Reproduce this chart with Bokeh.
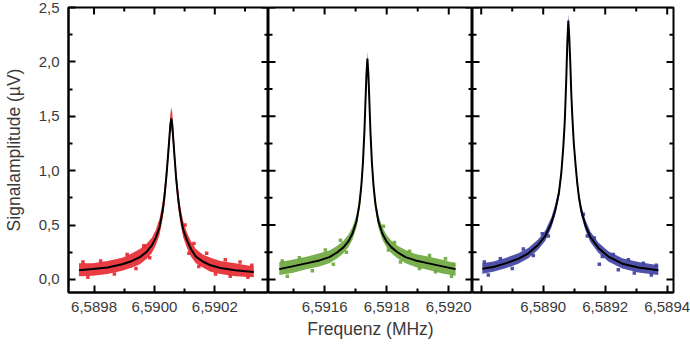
import math
from bokeh.plotting import figure
from bokeh.layouts import row
from bokeh.models import Range1d, LinearAxis, FixedTicker
from bokeh.embed import file_html
from bokeh.resources import INLINE

# ---------------- data ----------------
# Panel 1 (red)
red_freq = [6.5897503, 6.5897958, 6.5898446, 6.5898934, 6.5899259, 6.5899519, 6.5899747, 6.5899910,
            6.5900040, 6.5900170, 6.5900267, 6.5900332, 6.5900397, 6.5900446, 6.5900495, 6.5900527,
            6.5900560, 6.5900593, 6.5900625, 6.5900674, 6.5900723, 6.5900788, 6.5900853, 6.5900950,
            6.5901080, 6.5901210, 6.5901373, 6.5901601, 6.5901861, 6.5902186, 6.5902674, 6.5903292]
red_fit = [0.085, 0.095, 0.11, 0.14, 0.17, 0.205, 0.255, 0.31, 0.38, 0.48, 0.62, 0.76, 0.95, 1.12, 1.30, 1.42,
           1.48, 1.42, 1.29, 1.10, 0.92, 0.74, 0.60, 0.46, 0.36, 0.28, 0.21, 0.165, 0.13, 0.105, 0.085, 0.068]
red_hi = [0.15, 0.15, 0.17, 0.20, 0.24, 0.28, 0.33, 0.38, 0.45, 0.56, 0.70, 0.84, 1.03, 1.20, 1.38, 1.52,
          1.58, 1.53, 1.38, 1.18, 1.00, 0.82, 0.68, 0.54, 0.43, 0.35, 0.28, 0.23, 0.20, 0.17, 0.15, 0.12]
red_lo = [0.03, 0.035, 0.05, 0.08, 0.11, 0.14, 0.19, 0.24, 0.31, 0.41, 0.55, 0.68, 0.87, 1.04, 1.22, 1.34,
          1.38, 1.33, 1.20, 1.02, 0.84, 0.66, 0.53, 0.39, 0.29, 0.21, 0.15, 0.11, 0.07, 0.05, 0.03, 0.02]
red_dot_freq = [6.5897633, 6.5897796, 6.5898219, 6.5898674, 6.5899097, 6.5899389, 6.5899649, 6.5899845,
                6.5901015, 6.5901145, 6.5901308, 6.5901471, 6.5901731, 6.5902023, 6.5902349, 6.5902511,
                6.5902836, 6.5903097, 6.5903227]
red_dot_amp = [0.16, 0.02, 0.17, 0.05, 0.23, 0.10, 0.31, 0.20, 0.50, 0.24, 0.33, 0.12, 0.24, 0.05, 0.18,
               0.03, 0.16, 0.02, 0.13]

# Panel 2 (green)
green_freq = [6.5914541, 6.5914960, 6.5915444, 6.5915832, 6.5916154, 6.5916412, 6.5916606, 6.5916767,
              6.5916896, 6.5917025, 6.5917122, 6.5917186, 6.5917235, 6.5917283, 6.5917315, 6.5917348,
              6.5917380, 6.5917412, 6.5917445, 6.5917477, 6.5917525, 6.5917574, 6.5917638, 6.5917735,
              6.5917864, 6.5917993, 6.5918154, 6.5918348, 6.5918606, 6.5918928, 6.5919316, 6.5919800,
              6.5920219]
green_fit = [0.095, 0.12, 0.15, 0.175, 0.205, 0.25, 0.295, 0.35, 0.42, 0.53, 0.69, 0.87, 1.07, 1.36, 1.62, 1.88,
             2.03, 1.88, 1.62, 1.36, 1.07, 0.87, 0.69, 0.53, 0.42, 0.35, 0.295, 0.25, 0.205, 0.175, 0.15, 0.12,
             0.095]
green_hi = [0.16, 0.18, 0.21, 0.24, 0.265, 0.31, 0.355, 0.41, 0.48, 0.59, 0.75, 0.93, 1.13, 1.42, 1.68, 1.95,
            2.10, 1.95, 1.68, 1.42, 1.13, 0.93, 0.75, 0.59, 0.48, 0.41, 0.355, 0.31, 0.27, 0.235, 0.21, 0.18,
            0.15]
green_lo = [0.04, 0.06, 0.095, 0.12, 0.15, 0.195, 0.24, 0.295, 0.365, 0.475, 0.635, 0.81, 1.01, 1.30, 1.56, 1.82,
            1.96, 1.82, 1.56, 1.30, 1.01, 0.81, 0.635, 0.475, 0.365, 0.295, 0.24, 0.195, 0.15, 0.115, 0.09, 0.055,
            0.035]
green_dot_freq = [6.5914638, 6.5914799, 6.5915186, 6.5915606, 6.5916025, 6.5916283, 6.5916509, 6.5916703,
                  6.5917896, 6.5918057, 6.5918251, 6.5918445, 6.5918735, 6.5919058, 6.5919380, 6.5919574,
                  6.5919896, 6.5920090, 6.5920154]
green_dot_amp = [0.17, 0.03, 0.20, 0.08, 0.27, 0.14, 0.36, 0.25, 0.49, 0.27, 0.34, 0.16, 0.26, 0.10, 0.22,
                 0.07, 0.19, 0.03, 0.14]

# Panel 3 (blue)
blue_freq = [6.5888036, 6.5888391, 6.5888810, 6.5889197, 6.5889520, 6.5889842, 6.5890068, 6.5890262,
             6.5890391, 6.5890504, 6.5890584, 6.5890649, 6.5890697, 6.5890745, 6.5890778, 6.5890810,
             6.5890842, 6.5890875, 6.5890907, 6.5890939, 6.5890987, 6.5891045, 6.5891100, 6.5891155,
             6.5891229, 6.5891358, 6.5891520, 6.5891778, 6.5892100, 6.5892552, 6.5893068, 6.5893713]
blue_fit = [0.098, 0.115, 0.15, 0.19, 0.24, 0.32, 0.40, 0.52, 0.64, 0.79, 0.98, 1.22, 1.46, 1.85, 2.18, 2.38,
            2.22, 1.98, 1.70, 1.50, 1.25, 1.05, 0.88, 0.75, 0.63, 0.50, 0.39, 0.29, 0.21, 0.145, 0.11, 0.085]
blue_hi = [0.15, 0.165, 0.20, 0.24, 0.29, 0.37, 0.45, 0.57, 0.69, 0.84, 1.03, 1.27, 1.51, 1.90, 2.24, 2.44,
           2.28, 2.04, 1.76, 1.56, 1.30, 1.10, 0.93, 0.80, 0.68, 0.55, 0.44, 0.34, 0.26, 0.195, 0.16, 0.13]
blue_lo = [0.053, 0.07, 0.105, 0.145, 0.195, 0.275, 0.355, 0.475, 0.595, 0.745, 0.935, 1.175, 1.415, 1.805, 2.135,
           2.33, 2.175, 1.935, 1.655, 1.455, 1.205, 1.005, 0.835, 0.705, 0.585, 0.455, 0.345, 0.245, 0.165, 0.10,
           0.065, 0.04]
blue_dot_freq = [6.5888100, 6.5888229, 6.5888616, 6.5889003, 6.5889358, 6.5889681, 6.5889971, 6.5890165,
                 6.5891294, 6.5891423, 6.5891649, 6.5891810, 6.5891907, 6.5892262, 6.5892423, 6.5892746,
                 6.5892939, 6.5893230, 6.5893488, 6.5893649]
blue_dot_amp = [0.16, 0.04, 0.19, 0.10, 0.28, 0.22, 0.42, 0.40, 0.60, 0.40, 0.38, 0.14, 0.21, 0.23, 0.09,
                0.18, 0.06, 0.15, 0.04, 0.13]

# axes
x1_range = (6.5897154, 6.5903779)
x2_range = (6.5914193, 6.5920765)
x3_range = (6.5887719, 6.5894203)
x1_ticks = [6.5898, 6.5900, 6.5902]
x1_labels = ["6,5898", "6,5900", "6,5902"]
x1_minor = [6.5899, 6.5901, 6.5903]
x2_ticks = [6.5916, 6.5918, 6.5920]
x2_labels = ["6,5916", "6,5918", "6,5920"]
x2_minor = [6.5915, 6.5917, 6.5919]
x3_ticks = [6.5888, 6.5890, 6.5892, 6.5894]
x3_labels = ["", "6,5890", "6,5892", "6,5894"]
x3_minor = [6.5889, 6.5891, 6.5893]
y_range = (-0.12, 2.5)
y_ticks = [0.0, 0.5, 1.0, 1.5, 2.0, 2.5]
y_labels = ["0,0", "0,5", "1,0", "1,5", "2,0", "2,5"]
y_minor = [0.25, 0.75, 1.25, 1.75, 2.25]
x_title = "Frequenz (MHz)"
y_title = "Signalamplitude (\u00b5V)"

# ---------------- styling ----------------
FONT = "Liberation Sans"
TXT = "#3a3a3a"
TICK_FS = "15px"
TITLE_FS = "17.5px"
H = 345
TOP = 7
BOTTOM = 53
MAJ = 14   # dash length: half of it shows inside the frame
MIN = 8

yr = Range1d(*y_range)


def style_axis(ax):
    ax.axis_line_width = 2
    ax.axis_line_color = "black"
    ax.major_tick_in = 7
    ax.major_tick_out = 0
    ax.minor_tick_in = 4
    ax.minor_tick_out = 0
    ax.major_tick_line_width = 2
    ax.minor_tick_line_width = 2
    ax.major_tick_line_color = "black"
    ax.minor_tick_line_color = "black"
    ax.major_label_text_font = FONT
    ax.major_label_text_color = TXT
    ax.major_label_text_font_size = TICK_FS
    ax.axis_label_text_font = FONT
    ax.axis_label_text_color = TXT
    ax.axis_label_text_font_size = TITLE_FS
    ax.axis_label_text_font_style = "normal"
    return ax


def edge_ticks(p, xs, ys, size, angle):
    p.scatter(xs, ys, marker="dash", size=size, angle=angle, line_color="black", line_width=2)


def panel(xr, frame_w, freq, fit, lo, hi, dfreq, damp, color, xt, xl, xm,
          left_labels=False, title=None, bl=0, br=0):
    p = figure(width=frame_w + bl + br, height=H, x_range=Range1d(*xr), y_range=yr,
               output_backend="svg", toolbar_location=None,
               x_axis_location=None, y_axis_location=None,
               min_border=0, min_border_left=bl, min_border_right=br,
               min_border_top=TOP, min_border_bottom=BOTTOM)
    p.grid.visible = False
    p.outline_line_color = "black"
    p.outline_line_width = 2
    p.background_fill_color = "white"
    p.border_fill_color = "white"

    # bottom axis with labels
    bx = style_axis(LinearAxis(ticker=FixedTicker(ticks=xt, minor_ticks=xm),
                               major_label_overrides=dict(zip(xt, xl))))
    bx.major_label_standoff = 9
    if title:
        bx.axis_label = title
        bx.axis_label_standoff = 4
    p.add_layout(bx, "below")

    # data and fit
    p.varea(x=freq, y1=lo, y2=hi, fill_color=color, fill_alpha=0.9)
    p.scatter(dfreq, damp, size=3.5, marker="square", fill_color=color, line_color=None, alpha=0.9)
    p.line(freq, fit, line_color="black", line_width=2)

    # inward ticks on top edge, right edge and (for panels 2, 3) left edge
    xtop = [t for t in xt if xr[0] < t < xr[1]]
    xmin = [t for t in xm if xr[0] < t < xr[1]]
    edge_ticks(p, xtop, [y_range[1]] * len(xtop), MAJ, math.pi / 2)
    edge_ticks(p, xmin, [y_range[1]] * len(xmin), MIN, math.pi / 2)
    edge_ticks(p, [xr[1]] * len(y_ticks), y_ticks, MAJ, 0)
    edge_ticks(p, [xr[1]] * len(y_minor), y_minor, MIN, 0)

    if left_labels:
        ly = style_axis(LinearAxis(ticker=FixedTicker(ticks=y_ticks, minor_ticks=y_minor),
                                   major_label_overrides=dict(zip(y_ticks, y_labels))))
        ly.major_label_standoff = 9
        ly.axis_label = y_title
        ly.axis_label_standoff = 12
        p.add_layout(ly, "left")
    else:
        edge_ticks(p, [xr[0]] * len(y_ticks), y_ticks, MAJ, 0)
        edge_ticks(p, [xr[0]] * len(y_minor), y_minor, MIN, 0)
    return p


p1 = panel(x1_range, 204, red_freq, red_fit, red_lo, red_hi, red_dot_freq, red_dot_amp, "#e6262e",
           x1_ticks, x1_labels, x1_minor, left_labels=True, bl=64)
p2 = panel(x2_range, 204, green_freq, green_fit, green_lo, green_hi, green_dot_freq, green_dot_amp, "#6ba63c",
           x2_ticks, x2_labels, x2_minor, title=x_title)
p3 = panel(x3_range, 201, blue_freq, blue_fit, blue_lo, blue_hi, blue_dot_freq, blue_dot_amp, "#3c3f9e",
           x3_ticks, x3_labels, x3_minor, br=17)

layout = row(p1, p2, p3, spacing=0)

with open("out.html", "w") as f:
    f.write(file_html(layout, INLINE))
